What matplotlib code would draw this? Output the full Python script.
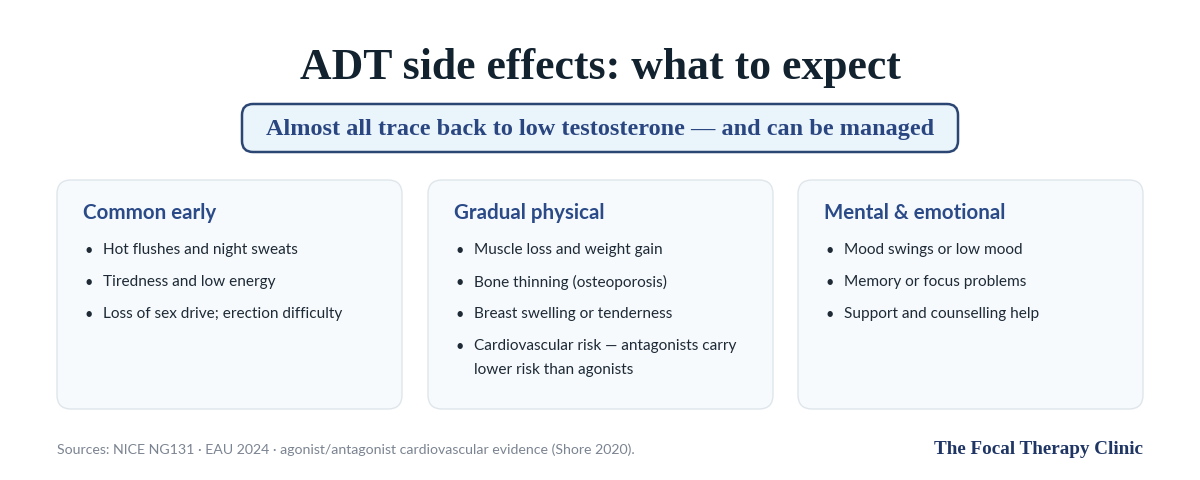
"""ADT side effects infographic: three rounded cards under a serif title."""

import matplotlib.pyplot as plt
from matplotlib.patches import FancyBboxPatch

TITLE = "ADT side effects: what to expect"
SUBTITLE = "Almost all trace back to low testosterone \u2014 and can be managed"

CARD_TITLES = ["Common early", "Gradual physical", "Mental & emotional"]
CARD_ITEMS = [
    ["Hot flushes and night sweats",
     "Tiredness and low energy",
     "Loss of sex drive; erection difficulty"],
    ["Muscle loss and weight gain",
     "Bone thinning (osteoporosis)",
     "Breast swelling or tenderness",
     "Cardiovascular risk \u2014 antagonists carry\nlower risk than agonists"],
    ["Mood swings or low mood",
     "Memory or focus problems",
     "Support and counselling help"],
]

SOURCES = ("Sources: NICE NG131 \u00b7 EAU 2024 \u00b7 agonist/antagonist "
           "cardiovascular evidence (Shore 2020).")
BRAND = "The Focal Therapy Clinic"

SERIF = ["Liberation Serif", "DejaVu Serif"]
SANS = ["Lato", "DejaVu Sans"]

fig = plt.figure(figsize=(12, 4.8), dpi=100)
fig.patch.set_facecolor("white")
ax = fig.add_axes([0, 0, 1, 1])
ax.set_xlim(0, 1200)
ax.set_ylim(480, 0)
ax.axis("off")

ax.text(600, 68, TITLE, ha="center", va="center", fontsize=31.5,
        fontweight="bold", family=SERIF, color="#12222f")

ax.add_patch(FancyBboxPatch((242, 104), 716, 48,
                            boxstyle="round,pad=0,rounding_size=11",
                            facecolor="#eaf4fb", edgecolor="#2c4673", lw=1.8))
ax.text(600, 129, SUBTITLE, ha="center", va="center", fontsize=17.5,
        fontweight="bold", family=SERIF, color="#2a4680")

card_x = [57, 428, 798]
card_w, card_top, card_h = 345, 180, 229
for x0, head, items in zip(card_x, CARD_TITLES, CARD_ITEMS):
    ax.add_patch(FancyBboxPatch((x0, card_top), card_w, card_h,
                                boxstyle="round,pad=0,rounding_size=14",
                                facecolor="#f6fafc", edgecolor="#dfe6eb",
                                lw=1.0))
    ax.text(x0 + 26, 213, head, ha="left", va="center", fontsize=14.8,
            fontweight="bold", family=SANS, color="#2b4a88")
    y = 249
    for item in items:
        ax.text(x0 + 32, y + 2, "\u2022", ha="center", va="center",
                fontsize=10.5, family=SANS, color="#1e2a36")
        ax.text(x0 + 46, y - 6, item, ha="left", va="top", fontsize=11.1,
                family=SANS, color="#1e2a36", linespacing=1.9)
        y += 32

ax.text(57, 450, SOURCES, ha="left", va="center", fontsize=10.2,
        family=SANS, color="#7b8491")
ax.text(1143, 449, BRAND, ha="right", va="center", fontsize=13.8,
        fontweight="bold", family=SERIF, color="#1f3564")

fig.savefig("out.png", dpi=100, facecolor="white")
